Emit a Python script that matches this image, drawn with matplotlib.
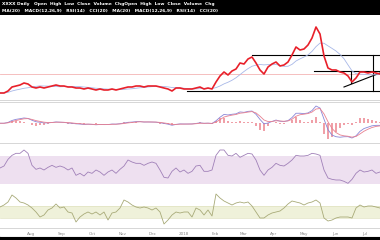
import matplotlib
matplotlib.use('Agg')
import matplotlib.pyplot as plt
import pandas as pd

# daily-ish closes, one value every 4 days from early July 2017
dates = pd.date_range('2017-07-01', periods=96, freq='4D')
price = [10.8, 10.8, 11.0, 11.4, 11.5, 11.6, 11.8, 11.7, 11.4, 11.3, 11.4, 11.3,
         11.4, 11.5, 11.6, 11.5, 11.5, 11.4, 11.4, 11.3, 11.3, 11.2, 11.3, 11.2,
         11.1, 11.2, 11.1, 11.1, 11.2, 11.1, 11.2, 11.3, 11.4, 11.4, 11.5, 11.5,
         11.4, 11.5, 11.5, 11.5, 11.4, 11.3, 11.2, 11.0, 11.3, 11.3, 11.2, 11.2,
         11.2, 11.3, 11.4, 11.2, 11.3, 11.2, 11.9, 12.5, 12.9, 12.6, 13.0, 13.2,
         13.8, 13.7, 14.2, 14.4, 13.8, 13.1, 12.7, 13.4, 13.7, 13.9, 13.5, 13.6,
         13.9, 14.6, 15.4, 15.1, 15.2, 15.6, 16.3, 17.4, 16.7, 14.5, 13.3, 13.1,
         13.1, 12.9, 12.8, 12.5, 11.9, 12.3, 12.9, 12.9, 12.8, 12.9, 12.8, 12.7]
rsi = [52, 55, 65, 71, 74, 74, 79, 74, 56, 50, 52, 49, 53, 56, 53, 55, 53, 49,
       52, 41, 44, 40, 46, 44, 49, 46, 41, 46, 49, 44, 50, 55, 64, 61, 59, 59,
       56, 59, 61, 59, 49, 38, 37, 47, 52, 46, 49, 44, 47, 55, 56, 47, 47, 49,
       71, 79, 79, 71, 70, 74, 68, 71, 74, 73, 64, 49, 41, 49, 53, 59, 56, 55,
       59, 64, 71, 70, 70, 71, 74, 73, 71, 49, 37, 35, 34, 34, 32, 29, 35, 44,
       49, 46, 47, 49, 44, 46]
osc = [25, 35, 50, 85, 70, 50, 45, 35, 20, 0, -25, -15, 10, 20, 40, 20, 25, 0,
       -5, -50, -25, -10, 0, -10, 0, -15, 0, -40, -5, 0, 20, 60, 50, 35, 25, 20,
       25, 20, 10, 20, 0, -60, -40, -15, 0, -5, 0, 0, -25, 20, 10, -15, 10, -20,
       90, 70, 55, 45, 35, 45, 50, 45, 50, 30, 0, -30, -30, -15, -5, 0, 5, 20,
       40, 55, 50, 45, 35, 45, 50, 60, 45, -30, -45, -40, -30, -25, -25, -25,
       -30, 20, 35, 25, 30, 30, 25, 20]

# drawn trendlines: (start date, start price, end date, end price)
trend_lines = [('2018-01-04', 11.0, '2018-07-16', 11.0),
               ('2018-03-10', 14.6, '2018-07-16', 14.6),
               ('2018-05-11', 13.0, '2018-07-16', 13.0),
               ('2018-06-10', 11.4, '2018-07-16', 12.8),
               ('2018-07-09', 14.6, '2018-07-09', 11.0),
               ('2018-06-17', 13.0, '2018-06-17', 11.8)]
ref_level = 12.7
month_labels = ['Aug', 'Sep', 'Oct', 'Nov', 'Dec', '2018', 'Feb', 'Mar',
                'Apr', 'May', 'Jun', 'Jul']

s = pd.Series(price, index=dates)
ma = s.rolling(8, min_periods=1).mean()
macd = s.ewm(span=4, adjust=False).mean() - s.ewm(span=9, adjust=False).mean()
signal = macd.ewm(span=3, adjust=False).mean()
hist = macd - signal

W, H = 380, 240
fig = plt.figure(figsize=(3.8, 2.4), dpi=100)

def box(top, bottom):
    return [0, 1 - bottom / H, 1, (bottom - top) / H]

def clean(ax):
    for sp in ax.spines.values():
        sp.set_visible(False)
    ax.set_xticks([])
    ax.set_yticks([])
    ax.set_xlim(dates[0], dates[-1])

# header band
hd = fig.add_axes(box(0, 15))
hd.set_facecolor('black')
hd.set_xticks([]); hd.set_yticks([])
hd.text(0.005, 0.72, 'XXXX Daily   ' + '  '.join(['Open', 'High', 'Low', 'Close', 'Volume', 'Chg']) * 2,
        color='white', fontsize=3.2, fontweight='bold', va='center', transform=hd.transAxes)
hd.text(0.005, 0.25, 'MA(20)   MACD(12,26,9)   RSI(14)   CCI(20)   ' * 2,
        color='white', fontsize=3.2, fontweight='bold', va='center', transform=hd.transAxes)

# price panel
ax = fig.add_axes(box(15, 101))
clean(ax)
ax.set_ylim(10.0, 18.6)
ax.axhline(ref_level, color='#f4b4b4', lw=0.6)
ax.axhline(10.0, color='#cfcfcf', lw=1.2)
for d0, p0, d1, p1 in trend_lines:
    ax.plot([pd.Timestamp(d0), pd.Timestamp(d1)], [p0, p1], color='black', lw=0.8)
ax.plot(dates, ma, color='#a8b8e8', lw=0.6)
ax.plot(dates, price, color='#e8202a', lw=1.2)

# MACD panel
am = fig.add_axes(box(102, 144))
clean(am)
lo = min(macd.min(), signal.min())
hi = max(macd.max(), signal.max())
r = (hi - lo) / 32
am.set_ylim(lo - 6 * r, hi + 4 * r)
am.bar(dates, hist * 2, width=1.6, color='#f0a0a8')
am.plot(dates, macd, color='#8a86d8', lw=0.6)
am.plot(dates, signal, color='#e88090', lw=0.6)
am.axhline(hi + 4 * r, color='#d0d0d0', lw=1.2)
am.axhline(lo - 6 * r, color='#d0d0d0', lw=1.2)

# RSI panel
ar = fig.add_axes(box(144, 184))
clean(ar)
ar.set_ylim(28, 88)
ar.axhspan(28, 70, color='#eee0f0', lw=0)
ar.plot(dates, rsi, color='#a080b8', lw=0.6)

# oscillator panel
ao = fig.add_axes(box(185, 229))
clean(ao)
ao.set_ylim(-85, 135)
ao.axhspan(-30, 30, color='#eff1da', lw=0)
ao.axhline(-30, color='#e0e2c0', lw=0.5)
ao.axhline(30, color='#e0e2c0', lw=0.5)
ao.axhline(-85, color='#d0d0d0', lw=1.2)
ao.plot(dates, osc, color='#a8aa78', lw=0.6)
ticks = pd.date_range('2017-08-01', periods=12, freq='MS')
ao.set_xticks(ticks)
ao.set_xticklabels(month_labels, fontsize=3, color='#888888')
ao.tick_params(axis='x', length=0, pad=2.5)

# footer band
ft = fig.add_axes(box(237, 240))
ft.set_facecolor('black')
ft.set_xticks([]); ft.set_yticks([])

fig.savefig('out.png', dpi=100)
